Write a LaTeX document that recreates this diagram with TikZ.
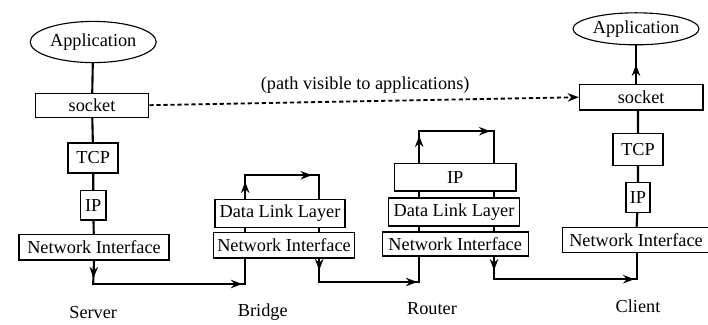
\documentclass[tikz,border=0pt]{standalone}
\usepackage{fontspec}
\setmainfont{Liberation Serif}
\usepackage{tikz}
\usetikzlibrary{shapes.geometric, arrows.meta, positioning, backgrounds, decorations.markings}
\tikzset{
  layer/.style={rectangle, draw=black, fill=white, line width=1pt,
                inner sep=1pt, text centered},
  app/.style={ellipse, draw=black, fill=white, line width=0.8pt,
              inner sep=1pt, text centered},
  flow/.style={draw=black, line width=1.5pt, line cap=rect},
  tip/.style={postaction={decorate}, decoration={markings,
              mark=at position #1 with {\arrow{Stealth[length=8pt,width=6pt]}}}},
  dotarrow/.style={draw=black, line width=1.3pt, dash pattern=on 3pt off 2pt,
                   -{Stealth[length=8pt,width=6pt]}},
  hostname/.style={font=\fontsize{13}{15}\selectfont},
}

\begin{document}
\begin{tikzpicture}[every node/.style={font=\fontsize{13}{15}\selectfont}]
  \useasboundingbox (0,0) rectangle (17.7,-8.1);

  % server stack
  \node[app, minimum width=2.83cm, minimum height=1.03cm] (app1) at (2.33,-1.05) {Application};
  \node[layer, minimum width=2.83cm, minimum height=0.6cm] (sock1) at (2.30,-2.63) {socket};
  \node[layer, minimum width=1.25cm, minimum height=0.75cm] (tcp1) at (2.33,-3.95) {TCP};
  \node[layer, minimum width=0.63cm, minimum height=0.73cm] (ip1) at (2.33,-5.13) {IP};
  \node[layer, minimum width=3.75cm, minimum height=0.63cm] (ni1) at (2.35,-6.18) {Network Interface};

  % bridge
  \node[layer, minimum width=3.25cm, minimum height=0.7cm] (dll2) at (7.0,-5.33) {Data Link Layer};
  \node[layer, minimum width=3.53cm, minimum height=0.63cm] (ni2) at (7.10,-6.13) {Network Interface};

  % router
  \node[layer, minimum width=3.03cm, minimum height=0.68cm] (ip3) at (11.38,-4.43) {IP};
  \node[layer, minimum width=3.28cm, minimum height=0.7cm] (dll3) at (11.35,-5.3) {Data Link Layer};
  \node[layer, minimum width=3.65cm, minimum height=0.6cm] (ni3) at (11.38,-6.1) {Network Interface};

  % client stack
  \node[app, minimum width=2.85cm, minimum height=0.8cm] (app4) at (15.9,-0.72) {Application};
  \node[layer, minimum width=3.08cm, minimum height=0.63cm] (sock4) at (16.03,-2.43) {socket};
  \node[layer, minimum width=1.25cm, minimum height=0.8cm] (tcp4) at (15.95,-3.73) {TCP};
  \node[layer, minimum width=0.6cm, minimum height=0.75cm] (ip4) at (15.95,-4.93) {IP};
  \node[layer, minimum width=3.68cm, minimum height=0.63cm] (ni4) at (15.9,-6.0) {Network Interface};

  % machine names
  \node[hostname] (server) at (2.33,-7.82) {Server};
  \node[hostname] (bridge) at (6.57,-7.8) {Bridge};
  \node[hostname] (router) at (10.8,-7.72) {Router};
  \node[hostname] (client) at (15.95,-7.65) {Client};

  % corners of the packet route
  \coordinate (sv) at (2.33,-7.1);
  \coordinate (bl) at (6.13,-7.1);
  \coordinate (bt) at (6.13,-4.38);
  \coordinate (br) at (7.98,-4.38);
  \coordinate (bb) at (7.98,-7.05);
  \coordinate (rl) at (10.48,-7.05);
  \coordinate (rt) at (10.48,-3.28);
  \coordinate (rr) at (12.35,-3.28);
  \coordinate (rb) at (12.35,-6.98);
  \coordinate (cl) at (15.93,-6.98);

  \begin{scope}[on background layer]
    \draw[flow] (app1) -- (sock1) -- (tcp1) -- (ip1) -- (ni1);
    \draw[flow, tip=0.75] (ni1.south) -- (sv);
    \draw[flow, tip=0.98] (sv) -- (bl);
    \draw[flow, tip=0.94] (bl) -- (bt);
    \draw[flow, tip=0.9] (bt) -- (br);
    \draw[flow, tip=0.89] (br) -- (bb);
    \draw[flow, tip=0.98] (bb) -- (rl);
    \draw[flow, tip=0.97] (rl) -- (rt);
    \draw[flow, tip=0.95] (rt) -- (rr);
    \draw[flow, tip=0.94] (rr) -- (rb);
    \draw[flow, tip=0.98] (rb) -- (cl);
    \draw[flow] (cl) -- (cl |- ni4.south);
    \draw[flow] (ni4) -- (ip4) -- (tcp4) -- (tcp4 |- sock4.south);
    \draw[flow, tip=0.5] (app4.south |- sock4.north) -- (app4.south);
  \end{scope}

  % end-to-end path
  \draw[dotarrow] (sock1.east) -- (sock4.west);
  \node (path) at (9.13,-2.13) {(path visible to applications)};
\end{tikzpicture}
\end{document}
